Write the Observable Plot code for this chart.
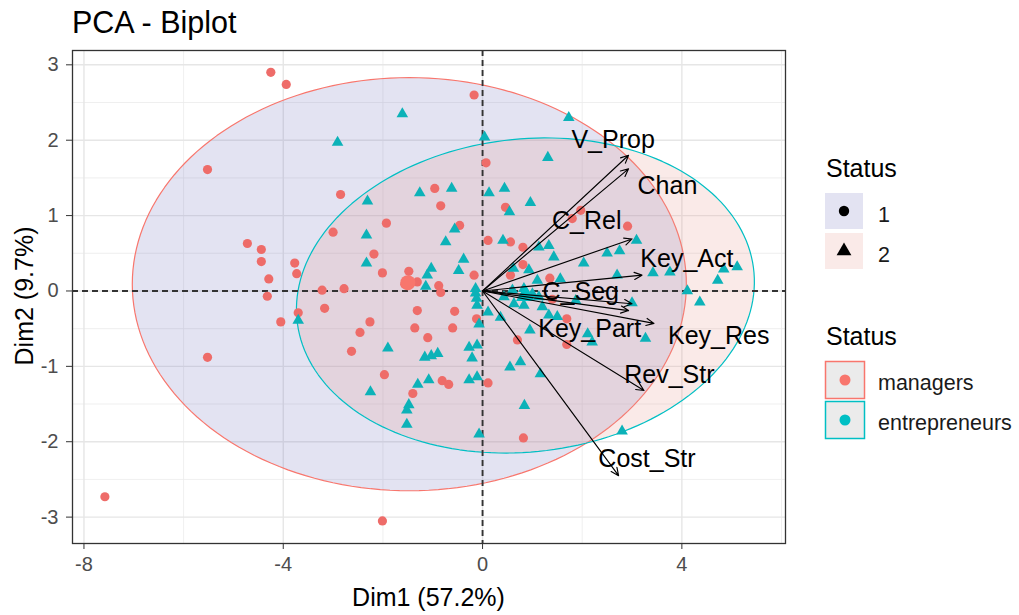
<!DOCTYPE html>
<html>
<head>
<meta charset="utf-8">
<script src="https://cdn.jsdelivr.net/npm/d3@7"></script>
<script src="https://cdn.jsdelivr.net/npm/@observablehq/plot@0.6"></script>
<style>
  body { margin: 0; background: #fff; }
  #wrap { position: relative; width: 1019px; height: 615px; font-family: "Liberation Sans", Arial, sans-serif; }
  #wrap > svg { position: absolute; left: 0; top: 0; }
  #overlay { pointer-events: none; }
  g[aria-label="x-axis tick label"], g[aria-label="y-axis tick label"] { fill: #4d4d4d; }
</style>
</head>
<body>
<div id="wrap"></div>
<script>
// Individuals: managers (circles)
const managersX = [-4.25,-3.94,-5.52,-4.72,-4.44,-4.44,-3.77,-3.73,-4.29,-4.32,-3.70,-4.05,-5.52,-7.58,-0.17,0.07,-2.85,-0.96,-0.84,0.46,-1.93,-0.46,-3.00,-2.18,0.11,0.56,0.81,0.81,-2.01,-1.48,-0.17,0.56,-1.31,-3.22,-2.78,-0.88,-0.84,-3.17,-1.31,-0.56,-2.26,-1.36,-0.60,-0.12,-2.46,-1.10,-2.63,-1.97,-0.81,-0.68,-1.40,0.11,0.70,0.82,-2.01,1.69,1.69,1.40,1.35,2.91,1.97,1.80,-1.56];
const managersY = [2.90,2.74,1.61,0.63,0.55,0.39,0.37,0.23,0.16,-0.07,-0.29,-0.41,-0.88,-2.73,2.60,1.70,1.28,1.36,1.13,1.11,0.90,0.87,0.78,0.49,0.67,0.65,0.58,0.35,0.24,0.26,0.21,0.21,0.12,0.01,0.03,0.07,-0.02,-0.23,-0.26,-0.27,-0.41,-0.49,-0.49,-0.37,-0.55,-0.62,-0.80,-1.11,-1.19,-1.24,-1.36,-1.22,-0.65,-1.95,-3.05,-0.71,-0.37,-0.11,0.17,0.86,1.07,0.96,0.09];

// Individuals: entrepreneurs (triangles)
const entrepreneursX = [-1.61,-2.91,0.04,1.31,1.73,-1.26,-0.62,0.13,0.44,0.96,0.54,-2.31,-0.56,-2.33,-0.74,0.41,1.13,1.33,-2.33,-0.38,-1.03,-0.48,-1.11,0.93,-1.14,-0.14,-0.14,-0.12,-0.11,-0.07,-1.90,-1.16,-1.03,-0.90,-0.27,-0.11,-0.21,-2.25,-1.30,-1.08,-0.27,-0.11,-1.48,-1.52,-1.52,0.11,0.36,0.95,0.55,0.76,1.16,0.84,-0.07,-3.70,1.43,2.03,2.50,2.75,3.09,3.42,3.76,4.11,4.72,4.84,5.11,4.36,2.70,3.00,3.27,2.20,2.11,1.50,2.80,0.43,0.60,0.83,1.00,1.13,1.20,0.83,0.63,1.56,1.33,1.87,0.62,1.10];
const entrepreneursY = [2.35,1.97,2.04,1.77,2.30,1.30,1.36,1.30,1.36,1.17,1.05,1.19,0.82,0.74,0.65,0.67,0.58,0.60,0.37,0.42,0.30,0.27,0.21,0.28,0.06,0.03,-0.03,-0.10,-0.19,-0.44,-0.76,-0.88,-0.86,-0.83,-0.75,-0.72,-0.89,-1.34,-1.24,-1.18,-1.18,-1.14,-1.51,-1.58,-1.77,-0.28,-0.35,-0.52,-1.01,-0.94,-1.10,-1.52,-1.90,-0.39,0.45,0.37,0.50,0.53,0.67,0.24,0.25,0.00,0.14,0.29,0.32,-0.15,0.21,-0.16,-0.63,-0.68,-0.57,-0.34,-1.86,-0.08,0.01,0.03,-0.04,-0.08,-0.21,-0.19,-0.17,0.16,-0.32,-0.13,0.30,0.14];

// Group means
const groups = ["managers", "entrepreneurs"];
const meanX = [-1.50, 0.86];
const meanY = [0.11, -0.06];

// Concentration ellipses per group
const ellipseCx = [-1.47, 0.86];
const ellipseCy = [0.09, -0.06];
const ellipseRx = [5.56, 4.60];
const ellipseRy = [2.74, 2.08];
const ellipseTilt = [0.0, 0.05];

// Variables (loadings) and label anchors
const variables = ["V_Prop", "Chan", "C_Rel", "Key_Act", "C_Seg", "Key_Part", "Key_Res", "Rev_Str", "Cost_Str"];
const loadingX = [2.93, 2.93, 3.00, 3.20, 3.00, 2.93, 3.44, 3.24, 2.73];
const loadingY = [1.80, 1.62, 0.69, 0.21, -0.17, -0.26, -0.43, -1.32, -2.45];
const labelX = [2.62, 3.71, 2.09, 4.10, 1.97, 2.15, 4.74, 3.75, 3.30];
const labelY = [2.00, 1.39, 0.93, 0.42, -0.01, -0.51, -0.60, -1.11, -2.23];

// Axes
const xTicks = [-8, -4, 0, 4];
const xMinor = [-6, -2, 2, 6];
const yTicks = [-3, -2, -1, 0, 1, 2, 3];
const yMinor = [-2.5, -1.5, -0.5, 0.5, 1.5, 2.5];
const xTitle = "Dim1 (57.2%)";
const yTitle = "Dim2 (9.7%)";
const chartTitle = "PCA - Biplot";

// Legends
const legendTitle = "Status";
const shapeLevels = ["1", "2"];
const colorLevels = ["managers", "entrepreneurs"];

const red = "#F8766D", teal = "#00BFC4";
const redPoint = "#EE6C69", tealPoint = "#0CB2B8";
const lavender = "#7373BE", rose = "#E6968C";
const ellipseFill = [lavender, rose];
const groupColor = [red, teal];

function ellipsePath(g) {
  const a = ellipseTilt[g], pts = [];
  for (let k = 0; k < 180; k++) {
    const t = (k / 180) * 2 * Math.PI;
    const u = ellipseRx[g] * Math.cos(t), v = ellipseRy[g] * Math.sin(t);
    pts.push({x: ellipseCx[g] + u * Math.cos(a) - v * Math.sin(a),
              y: ellipseCy[g] + u * Math.sin(a) + v * Math.cos(a)});
  }
  return pts;
}

const fmt = d => String(d);

const chart = Plot.plot({
  width: 1019,
  height: 615,
  marginLeft: 72,
  marginRight: 234,
  marginTop: 50,
  marginBottom: 72,
  x: {domain: [-8.23, 6.08]},
  y: {domain: [-3.35, 3.19]},
  style: {fontFamily: "'Liberation Sans', Arial, sans-serif", background: "transparent", overflow: "visible"},
  marks: [
    Plot.ruleX(xMinor, {stroke: "#EBEBEB", strokeWidth: 0.8}),
    Plot.ruleY(yMinor, {stroke: "#EBEBEB", strokeWidth: 0.8}),
    Plot.ruleX(xTicks, {stroke: "#E6E6E6", strokeWidth: 1.4}),
    Plot.ruleY(yTicks, {stroke: "#E6E6E6", strokeWidth: 1.4}),
    ...groups.map((g, i) => Plot.line(ellipsePath(i), {
      x: "x", y: "y", curve: "linear-closed",
      fill: ellipseFill[i], fillOpacity: 0.2,
      stroke: groupColor[i], strokeWidth: 1.2
    })),
    Plot.ruleX([0], {stroke: "#333", strokeWidth: 1.9, strokeDasharray: "6,4"}),
    Plot.ruleY([0], {stroke: "#333", strokeWidth: 1.9, strokeDasharray: "6,4"}),
    Plot.dot(managersX, {x: d => d, y: (d, i) => managersY[i], r: 4.6, fill: redPoint, symbol: "circle"}),
    Plot.dot(entrepreneursX, {x: d => d, y: (d, i) => entrepreneursY[i], r: 4.3, fill: tealPoint, symbol: "triangle"}),
    Plot.dot([0], {x: () => meanX[0], y: () => meanY[0], r: 7.5, fill: red, symbol: "circle"}),
    Plot.dot([1], {x: () => meanX[1], y: () => meanY[1], r: 7, fill: teal, symbol: "triangle"}),
    Plot.arrow(variables, {
      x1: () => 0, y1: () => 0,
      x2: (d, i) => loadingX[i], y2: (d, i) => loadingY[i],
      stroke: "#000", strokeWidth: 1.15, headLength: 11, headAngle: 50
    }),
    Plot.text(variables, {
      x: (d, i) => labelX[i], y: (d, i) => labelY[i], text: d => d,
      fontSize: 25, fill: "#000", textAnchor: "middle", lineAnchor: "middle"
    }),
    Plot.frame({stroke: "#333", strokeWidth: 1.3}),
    Plot.axisX({ticks: xTicks, tickFormat: fmt, tickSize: 6, tickPadding: 7, fontSize: 20, color: "#333", label: null}),
    Plot.axisY({ticks: yTicks, tickFormat: fmt, tickSize: 6, tickPadding: 8, fontSize: 20, color: "#333", label: null})
  ]
});

const wrap = document.getElementById("wrap");
wrap.appendChild(chart);

// Titles and legends drawn in an overlay
const svg = d3.select(wrap).append("svg")
  .attr("id", "overlay").attr("width", 1019).attr("height", 615)
  .style("font-family", "'Liberation Sans', Arial, sans-serif");

svg.append("text").attr("x", 72).attr("y", 33).attr("font-size", 30.5).attr("fill", "#000").text(chartTitle);
svg.append("text").attr("x", 428.5).attr("y", 606).attr("text-anchor", "middle").attr("font-size", 25).attr("fill", "#000").text(xTitle);
svg.append("text").attr("transform", "translate(33,296) rotate(-90)").attr("text-anchor", "middle").attr("font-size", 25).attr("fill", "#000").text(yTitle);

// Shape legend
const keyFill = ["#E3E3F2", "#FAEAE8"];
svg.append("text").attr("x", 826).attr("y", 177).attr("font-size", 25).attr("fill", "#000").text(legendTitle);
shapeLevels.forEach((lvl, i) => {
  const top = 193 + i * 40;
  svg.append("rect").attr("x", 825).attr("y", top).attr("width", 38).attr("height", 36).attr("fill", keyFill[i]);
  const sym = i === 0 ? d3.symbolCircle : d3.symbolTriangle;
  svg.append("path").attr("d", d3.symbol(sym, i === 0 ? 85 : 95)())
    .attr("transform", `translate(844,${top + 18})`).attr("fill", "#000");
  svg.append("text").attr("x", 878).attr("y", top + 29).attr("font-size", 21.5).attr("fill", "#1a1a1a").text(lvl);
});

// Colour legend
svg.append("text").attr("x", 826).attr("y", 345).attr("font-size", 25).attr("fill", "#000").text(legendTitle);
colorLevels.forEach((lvl, i) => {
  const top = 361.5 + i * 40;
  svg.append("rect").attr("x", 825.5).attr("y", top).attr("width", 39).attr("height", 37)
    .attr("fill", "#EBEBEB").attr("stroke", groupColor[i]).attr("stroke-width", 1.5);
  svg.append("circle").attr("cx", 845).attr("cy", top + 18.5).attr("r", 5.5).attr("fill", groupColor[i]);
  svg.append("text").attr("x", 878).attr("y", top + 28).attr("font-size", 21.5).attr("fill", "#1a1a1a").text(lvl);
});
</script>
</body>
</html>
